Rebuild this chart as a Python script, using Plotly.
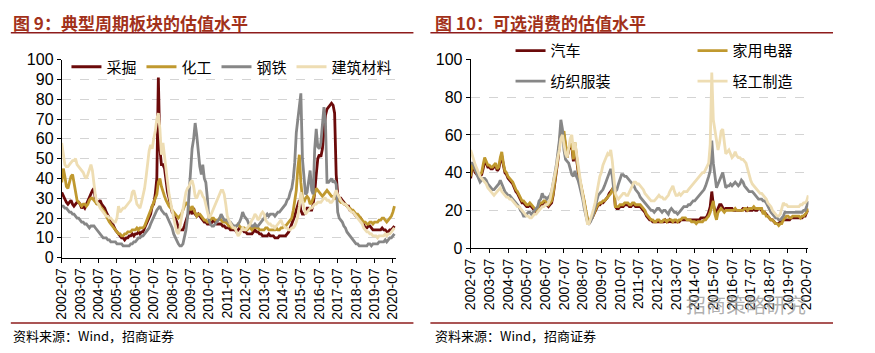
import plotly.graph_objects as go
import pandas as pd

# ---------------- data (monthly, 2002-07 .. 2020-08) ----------------
dates = [d.strftime("%Y-%m-%d") for d in pd.date_range("2002-07-01", periods=218, freq="MS")]

mining = [
    33, 31, 29, 28, 27, 28, 29, 27, 26, 27, 28, 28,
    27, 25, 26, 25, 27, 29, 30, 32, 34, 35, 29, 27,
    28, 29, 27, 26, 25, 23, 21, 20, 19, 17, 16, 14,
    13, 12, 11, 10, 10, 9, 10, 10, 11, 11, 12, 11,
    12, 12, 13, 12, 13, 13, 15, 17, 19, 20, 22, 26,
    27, 32, 40, 91, 55, 47, 47, 45, 38, 33, 30, 27,
    23, 22, 20, 18, 15, 14, 14, 14, 16, 19, 21, 23,
    24, 22, 25, 22, 21, 22, 21, 20, 19, 18, 18, 17,
    17, 17, 18, 19, 18, 17, 17, 17, 17, 16, 16, 15,
    15, 15, 14, 14, 14, 14, 13, 14, 15, 14, 14, 13,
    13, 12, 12, 12, 12, 13, 14, 13, 13, 12, 12, 11,
    11, 11, 11, 12, 11, 11, 11, 10, 10, 10, 11, 11,
    11, 11, 11, 12, 13, 15, 17, 19, 21, 24, 27, 29,
    24, 22, 22, 23, 25, 25, 24, 24, 27, 33, 42, 50,
    52, 51, 55, 62, 72, 75, 76, 77, 78, 77, 73, 42,
    32, 30, 30, 29, 28, 27, 26, 26, 24, 24, 23, 22,
    21, 21, 20, 20, 18, 16, 15, 15, 16, 16, 15, 14,
    14, 14, 14, 14, 14, 15, 14, 14, 13, 13, 14, 14,
    15, 16]

chemical = [
    38, 45, 41, 36, 35, 38, 41, 42, 38, 32, 29, 28,
    27, 26, 27, 27, 26, 27, 29, 30, 30, 29, 28, 27,
    27, 26, 25, 24, 23, 21, 19, 18, 17, 16, 15, 14,
    13, 12, 12, 11, 11, 12, 12, 13, 13, 13, 14, 14,
    14, 15, 14, 15, 15, 15, 16, 18, 20, 22, 24, 26,
    27, 29, 32, 38, 40, 36, 34, 31, 29, 27, 26, 25,
    24, 23, 22, 21, 20, 21, 22, 24, 26, 28, 27, 25,
    24, 26, 24, 22, 21, 22, 22, 21, 20, 19, 19, 18,
    18, 19, 20, 20, 19, 19, 19, 20, 19, 18, 18, 18,
    17, 16, 16, 15, 15, 15, 16, 17, 16, 15, 15, 15,
    14, 14, 15, 15, 14, 15, 16, 15, 15, 14, 14, 14,
    14, 15, 15, 14, 14, 14, 14, 14, 15, 14, 14, 15,
    15, 16, 16, 17, 18, 19, 20, 24, 28, 34, 45, 52,
    38, 30, 28, 30, 31, 30, 27, 28, 30, 33, 35, 34,
    33, 32, 31, 32, 33, 34, 33, 32, 31, 31, 30, 30,
    29, 29, 28, 28, 27, 27, 26, 25, 25, 24, 24, 23,
    22, 22, 21, 20, 19, 18, 18, 17, 17, 18, 18, 17,
    18, 18, 18, 19, 19, 20, 20, 19, 18, 19, 20, 21,
    23, 26]

steel = [
    26, 26, 25, 25, 24, 23, 23, 22, 22, 21, 20, 20,
    19, 18, 18, 17, 17, 16, 15, 16, 16, 16, 15, 14,
    13, 12, 11, 10, 10, 10, 9, 9, 8, 8, 8, 8,
    7, 7, 7, 7, 6, 6, 6, 6, 6, 7, 7, 8,
    8, 9, 10, 10, 11, 11, 12, 13, 14, 15, 17, 19,
    20, 22, 24, 25, 26, 24, 23, 22, 22, 20, 19, 17,
    15, 12, 10, 8, 7, 6, 6, 7, 10, 14, 20, 32,
    45, 55, 60, 68, 62, 54, 46, 42, 47, 40, 38, 30,
    19, 17, 16, 16, 17, 18, 19, 20, 22, 20, 19, 19,
    19, 18, 18, 17, 16, 16, 16, 17, 18, 20, 23, 21,
    20, 19, 17, 17, 16, 16, 17, 16, 16, 17, 18, 19,
    20, 21, 22, 21, 22, 22, 22, 21, 22, 23, 23, 24,
    25, 26, 27, 29, 30, 33, 35, 40, 48, 63, 70, 78,
    83, 50, 40, 32, 33, 38, 44, 34, 32, 55, 65, 56,
    55, 58, 66, 76, 68, 38, 38, 39, 40, 38, 39, 37,
    23, 20, 19, 18, 16, 15, 13, 12, 11, 10, 9, 8,
    7, 7, 6, 6, 6, 6, 6, 6, 7, 7, 6, 7,
    7, 7, 7, 8, 8, 8, 8, 9, 8, 9, 10, 10,
    11, 12]

building = [
    58, 52, 47, 46, 46, 47, 48, 49, 49, 50, 47, 46,
    45, 44, 43, 41, 40, 42, 44, 47, 44, 38, 31, 28,
    27, 25, 24, 23, 22, 21, 21, 20, 20, 19, 18, 18,
    20, 26, 23, 24, 25, 25, 26, 27, 28, 29, 33, 34,
    31, 27, 26, 25, 28, 31, 35, 41, 49, 54, 57, 55,
    60, 64, 70, 73, 65, 52, 58, 50, 45, 38, 32, 27,
    24, 20, 16, 13, 12, 15, 20, 25, 29, 33, 35, 36,
    38, 39, 36, 31, 30, 32, 34, 33, 31, 30, 27, 24,
    20, 21, 23, 25, 26, 28, 30, 32, 34, 34, 32, 27,
    21, 19, 17, 16, 15, 15, 13, 11, 12, 14, 15, 14,
    14, 15, 16, 17, 19, 20, 22, 21, 19, 20, 22, 23,
    22, 19, 18, 17, 17, 16, 16, 15, 16, 17, 18, 19,
    17, 16, 15, 15, 14, 14, 15, 15, 16, 18, 21, 26,
    33, 29, 25, 22, 23, 24, 25, 25, 26, 27, 27, 28,
    28, 28, 29, 30, 30, 29, 29, 28, 28, 29, 32, 34,
    32, 30, 29, 28, 27, 27, 26, 25, 24, 23, 23, 22,
    21, 20, 19, 18, 17, 15, 14, 13, 13, 12, 12, 11,
    11, 11, 10, 11, 11, 11, 11, 12, 11, 12, 12, 13,
    14, 15]

auto = [
    37, 43, 42, 40, 39, 38, 38, 39, 42, 46, 45, 43,
    43, 42, 42, 43, 44, 41, 42, 46, 49, 44, 40, 39,
    37, 36, 35, 34, 32, 30, 29, 27, 25, 24, 24, 23,
    22, 22, 23, 22, 21, 20, 19, 20, 22, 23, 23, 24,
    24, 23, 22, 23, 24, 28, 34, 39, 46, 54, 61, 59,
    60, 54, 48, 52, 54, 54, 46, 54, 47, 41, 36, 32,
    29, 24, 19, 15, 13, 15, 16, 18, 20, 22, 23, 23,
    24, 24, 25, 26, 27, 29, 30, 31, 32, 22, 21, 21,
    22, 22, 22, 23, 23, 23, 22, 22, 23, 23, 22, 22,
    22, 22, 21, 20, 19, 17, 16, 15, 15, 14, 14, 14,
    14, 14, 14, 14, 14, 15, 14, 14, 15, 14, 14, 14,
    14, 14, 14, 15, 15, 15, 15, 15, 15, 15, 15, 15,
    15, 15, 15, 15, 16, 16, 16, 16, 17, 19, 22, 30,
    23, 20, 19, 21, 23, 23, 21, 20, 21, 21, 21, 21,
    21, 20, 20, 20, 20, 20, 20, 21, 21, 20, 21, 20,
    20, 20, 21, 20, 20, 21, 21, 20, 19, 19, 18, 17,
    16, 15, 15, 14, 13, 13, 13, 14, 15, 15, 15, 15,
    15, 15, 16, 16, 16, 16, 16, 16, 16, 16, 17, 17,
    19, 20]

appliance = [
    38, 45, 43, 41, 40, 39, 39, 40, 44, 48, 46, 44,
    44, 43, 43, 44, 45, 42, 43, 48, 51, 45, 41, 40,
    38, 37, 36, 35, 33, 31, 30, 28, 26, 25, 25, 24,
    23, 23, 24, 23, 22, 21, 20, 21, 23, 24, 24, 25,
    25, 24, 23, 24, 25, 29, 35, 40, 47, 55, 63, 60,
    62, 55, 48, 53, 55, 55, 47, 56, 48, 42, 37, 33,
    30, 25, 20, 16, 14, 15, 16, 18, 20, 22, 23, 24,
    24, 25, 25, 26, 27, 28, 29, 31, 33, 22, 22, 22,
    23, 23, 23, 24, 24, 24, 23, 23, 24, 24, 23, 23,
    23, 23, 22, 21, 20, 18, 17, 16, 15, 15, 14, 14,
    15, 15, 14, 14, 15, 15, 14, 15, 15, 15, 14, 15,
    15, 14, 15, 15, 16, 16, 16, 15, 15, 15, 14, 14,
    14, 13, 14, 14, 14, 14, 15, 15, 16, 17, 19, 22,
    25, 18, 15, 19, 20, 21, 20, 19, 20, 20, 20, 20,
    20, 20, 21, 20, 20, 20, 20, 20, 21, 21, 20, 21,
    21, 21, 22, 21, 21, 21, 21, 21, 18, 19, 17, 17,
    16, 15, 15, 14, 13, 13, 12, 13, 13, 15, 16, 17,
    17, 16, 16, 17, 17, 17, 17, 17, 16, 17, 17, 18,
    19, 21]

textile = [
    45, 45, 44, 41, 39, 37, 35, 36, 37, 37, 36, 34,
    33, 32, 31, 31, 32, 33, 34, 36, 34, 32, 30, 29,
    28, 28, 27, 26, 25, 24, 23, 22, 20, 19, 17, 17,
    18, 19, 19, 18, 19, 20, 21, 22, 25, 26, 29, 27,
    27, 26, 27, 28, 30, 34, 38, 44, 50, 57, 68, 63,
    52, 47, 46, 45, 42, 39, 38, 41, 38, 36, 33, 30,
    26, 21, 17, 14, 13, 14, 16, 19, 23, 26, 28, 29,
    30, 31, 33, 35, 37, 39, 42, 38, 31, 30, 31, 34,
    37, 39, 39, 38, 38, 37, 36, 35, 34, 33, 31, 30,
    29, 27, 26, 25, 24, 23, 22, 21, 20, 20, 19, 20,
    21, 21, 20, 19, 20, 20, 19, 18, 20, 21, 20, 19,
    19, 18, 19, 20, 21, 22, 22, 22, 23, 23, 24, 25,
    25, 26, 27, 28, 29, 30, 31, 33, 35, 38, 41, 57,
    45, 38, 32, 34, 36, 38, 40, 36, 32, 33, 33, 34,
    33, 34, 35, 34, 33, 34, 36, 35, 33, 32, 31, 30,
    30, 30, 29, 28, 27, 26, 26, 26, 25, 25, 24, 22,
    21, 19, 18, 17, 16, 16, 15, 15, 16, 17, 19, 19,
    19, 19, 19, 19, 19, 19, 19, 19, 19, 19, 20, 20,
    22, 25]

light_ind = [
    52, 49, 46, 44, 42, 40, 38, 37, 36, 35, 34, 32,
    31, 30, 29, 28, 29, 30, 31, 32, 30, 29, 28, 27,
    27, 26, 26, 25, 24, 23, 22, 22, 21, 20, 19, 18,
    17, 17, 16, 16, 17, 18, 18, 19, 20, 21, 22, 22,
    23, 23, 24, 26, 30, 34, 38, 43, 48, 52, 58, 60,
    55, 50, 48, 53, 58, 60, 52, 56, 50, 44, 39, 33,
    28, 22, 17, 13, 13, 15, 18, 21, 24, 29, 34, 38,
    40, 44, 46, 48, 50, 49, 52, 46, 36, 29, 27, 26,
    27, 28, 29, 29, 28, 28, 30, 31, 33, 35, 35, 34,
    34, 33, 32, 31, 29, 28, 27, 26, 25, 25, 25, 26,
    27, 28, 27, 27, 26, 26, 27, 28, 30, 32, 33, 30,
    28, 28, 29, 28, 29, 30, 30, 30, 31, 32, 33, 34,
    35, 36, 37, 38, 39, 40, 40, 42, 44, 45, 55, 93,
    68, 63, 56, 52, 56, 62, 63, 57, 50, 51, 52, 50,
    48, 49, 51, 49, 48, 48, 47, 47, 46, 45, 42, 38,
    36, 34, 33, 32, 31, 30, 29, 29, 28, 27, 26, 24,
    23, 22, 20, 19, 18, 17, 17, 18, 21, 24, 23, 23,
    22, 22, 22, 22, 22, 22, 22, 22, 23, 23, 24, 24,
    25, 28]

left_names = ["采掘", "化工", "钢铁", "建筑材料"]
right_names = ["汽车", "家用电器", "纺织服装", "轻工制造"]
colors = ["#6B0A0A", "#C0992F", "#878787", "#EEDDB3"]

# ---------------- figure ----------------
W, H = 875, 353
def px(x): return x / W
def py(y): return 1 - y / H

CJK = "Noto Sans CJK SC"
LAT = "Liberation Sans, Arial, Noto Sans CJK SC"
LW = 2.8

fig = go.Figure()
for name, vals, c in zip(left_names, [mining, chemical, steel, building], colors):
    fig.add_trace(go.Scatter(x=dates, y=vals, name=name, mode="lines",
                             line=dict(color=c, width=LW),
                             xaxis="x", yaxis="y", legend="legend"))
for k, (name, vals, c) in enumerate(zip(right_names, [auto, appliance, textile, light_ind], colors)):
    fig.add_trace(go.Scatter(x=dates, y=vals, name=name, mode="lines",
                             line=dict(color=c, width=LW),
                             xaxis="x2", yaxis="y2",
                             legend="legend2" if k < 2 else "legend3"))

xcommon = dict(type="date", tick0="2002-07-01", dtick="M12", tickformat="%Y-%m",
               tickangle=-90, ticks="outside", ticklen=4, tickcolor="black",
               showline=True, linecolor="black", linewidth=1, showgrid=False,
               zeroline=False, tickfont=dict(family=LAT, size=14, color="black"))
ycommon = dict(range=[0, 100], ticks="outside", ticklen=4, tickcolor="black",
               showline=True, linecolor="black", linewidth=1, showgrid=True,
               gridcolor="#D4D4D4", griddash="dash", gridwidth=1, zeroline=False,
               tickfont=dict(family=LAT, size=16, color="black"))

legcommon = dict(orientation="h", bgcolor="rgba(0,0,0,0)", borderwidth=0,
                 font=dict(family=CJK, size=15, color="black"),
                 xanchor="left", yanchor="middle", itemclick=False)

fig.update_layout(
    width=W, height=H, margin=dict(l=0, r=0, t=0, b=0),
    paper_bgcolor="white", plot_bgcolor="white",
    font=dict(family=LAT, size=14, color="black"),
    xaxis=dict(domain=[px(57), px(412)], anchor="y",
               range=["2002-07-01", "2020-09-10"], **xcommon),
    yaxis=dict(domain=[py(262.3), py(54.3)], anchor="x", dtick=10, **ycommon),
    xaxis2=dict(domain=[px(490.7), px(849)], anchor="y2",
                range=["2002-07-01", "2020-08-05"], **xcommon),
    yaxis2=dict(domain=[py(252.3), py(54)], anchor="x2", dtick=20, **ycommon),
    legend=dict(x=px(62), y=py(62), **legcommon),
    legend2=dict(x=px(533), y=py(45), entrywidth=137, entrywidthmode="pixels", **legcommon),
    legend3=dict(x=px(533), y=py(77), entrywidth=137, entrywidthmode="pixels", **legcommon),
)

title_color = "#A2311A"
rule_color = "#8E1C1C"
annos = [
    dict(text="<b>图 9：典型周期板块的估值水平</b>", x=px(3), y=py(15)),
    dict(text="<b>图 10：可选消费的估值水平</b>", x=px(451), y=py(15)),
]
for a in annos:
    fig.add_annotation(xref="paper", yref="paper", xanchor="left", yanchor="middle",
                       showarrow=False, font=dict(family=CJK, size=17, color=title_color), **a)
for x0 in (3, 451):
    fig.add_annotation(text="资料来源：Wind，招商证券", xref="paper", yref="paper",
                       x=px(x0), y=py(344), xanchor="left", yanchor="middle", showarrow=False,
                       font=dict(family=CJK, size=13, color="black"))
fig.add_annotation(text="招商策略研究", xref="paper", yref="paper", x=px(783), y=py(312),
                   xanchor="center", yanchor="middle", showarrow=False,
                   font=dict(family=CJK, size=20, color="rgba(150,150,150,0.75)"))

for (x0, x1) in ((3, 430), (448, 875)):
    for yy in (26, 331):
        fig.add_shape(type="line", xref="paper", yref="paper",
                      x0=px(x0), x1=px(x1), y0=py(yy), y1=py(yy),
                      line=dict(color=rule_color, width=1.5))

fig.write_html("out.html")
